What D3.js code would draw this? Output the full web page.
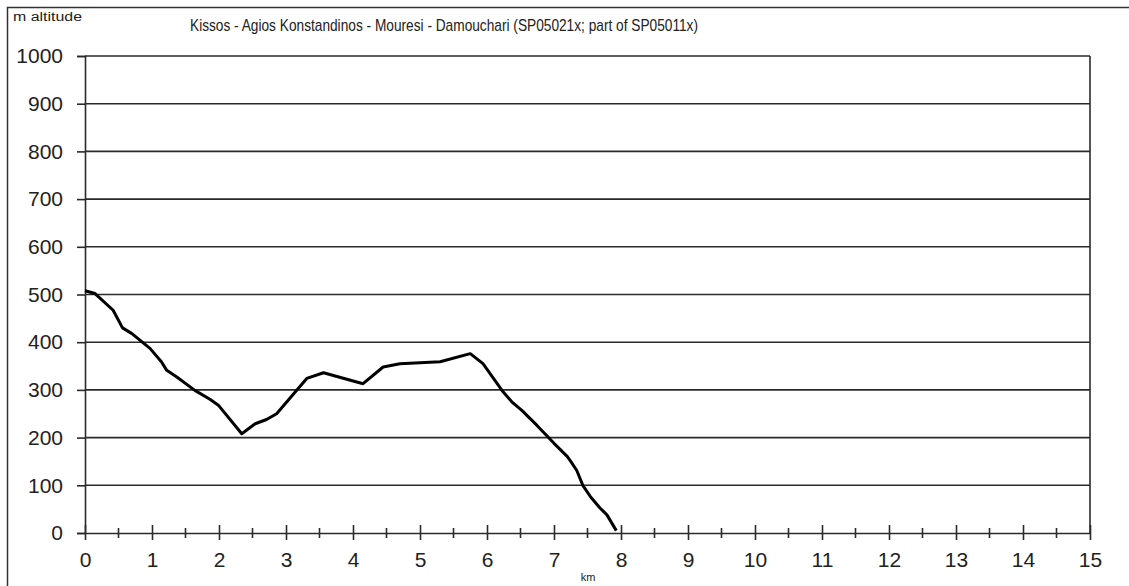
<!DOCTYPE html>
<html>
<head>
<meta charset="utf-8">
<script src="https://cdn.jsdelivr.net/npm/d3@7"></script>
<style>
  body { margin: 0; background: #fff; }
  svg { display: block; font-family: "Liberation Sans", Arial, sans-serif; }
</style>
</head>
<body>
<svg width="1129" height="586"></svg>
<script>
// elevation profile (km along route, metres)
const km = [0, 0.15, 0.42, 0.56, 0.70, 0.97, 1.14, 1.22, 1.37, 1.64, 1.87, 1.99, 2.34, 2.54, 2.71, 2.86,
            3.31, 3.56, 4.15, 4.45, 4.70, 5.30, 5.75, 5.94, 6.24, 6.37, 6.52, 6.75, 7.0, 7.2, 7.25,
            7.34, 7.43, 7.55, 7.69, 7.79, 7.93];
const altitude = [508, 502, 467, 430, 418, 387, 359, 341, 327, 299, 280, 268, 208, 229, 238, 250,
                  324, 336, 313, 348, 355, 359, 376, 355, 296, 275, 257, 225, 188, 160, 150,
                  131, 100, 75, 52, 38, 5];
const yTicks = [0, 100, 200, 300, 400, 500, 600, 700, 800, 900, 1000];
const xTicks = [0, 1, 2, 3, 4, 5, 6, 7, 8, 9, 10, 11, 12, 13, 14, 15];

const title = "Kissos - Agios Konstandinos - Mouresi - Damouchari (SP05021x; part of SP05011x)";

const svg = d3.select('svg');

// the plot box
const plotL = 85, plotR = 1090, plotT = 56, plotB = 533;
const axisCol = '#2a2a2a';
const labelFont = '"Liberation Sans", Arial, sans-serif';

const x = d3.scaleLinear().domain([0, 15]).range([plotL, plotR]);
const y = d3.scaleLinear().domain([0, 1000]).range([plotB, plotT]);

// outer frame of the picture (only top and left show)
svg.append('rect')
    .attr('x', 7.5).attr('y', 7.5)
    .attr('width', 1140).attr('height', 590)
    .attr('fill', 'none').attr('stroke', '#333').attr('stroke-width', 1.5);

// horizontal grid
svg.append('g')
    .selectAll('line')
    .data(yTicks.filter(d => d > 0))
    .enter().append('line')
    .attr('x1', plotL).attr('x2', plotR)
    .attr('y1', d => y(d)).attr('y2', d => y(d))
    .attr('stroke', axisCol).attr('stroke-width', 1.6);

// right edge of plot
svg.append('line')
    .attr('x1', plotR).attr('x2', plotR).attr('y1', plotT).attr('y2', plotB)
    .attr('stroke', axisCol).attr('stroke-width', 1.6);

// y axis
const yAxis = svg.append('g')
    .attr('transform', `translate(${plotL},0)`)
    .call(d3.axisLeft(y).tickValues(yTicks).tickFormat(d3.format('d')).tickSize(8).tickPadding(14));
yAxis.select('.domain').attr('stroke', axisCol).attr('stroke-width', 1.6);
yAxis.selectAll('.tick line').attr('stroke', axisCol).attr('stroke-width', 1.6);
yAxis.selectAll('text').attr('font-size', 21).attr('fill', '#222')
    .attr('font-family', labelFont);

// x axis - major ticks cross the axis line
const xAxis = svg.append('g')
    .attr('transform', `translate(0,${plotB})`)
    .call(d3.axisBottom(x).tickValues(xTicks).tickFormat(d3.format('d')).tickSize(0).tickPadding(19));
xAxis.select('.domain').attr('stroke', axisCol).attr('stroke-width', 1.6);
xAxis.selectAll('text').attr('font-size', 21).attr('fill', '#222')
    .attr('font-family', labelFont);
xAxis.selectAll('.tick').append('line')
    .attr('y1', -8).attr('y2', 7)
    .attr('stroke', axisCol).attr('stroke-width', 1.6);

// minor ticks at the half km
const minor = d3.range(0.5, 15, 1);
svg.append('g')
    .selectAll('line')
    .data(minor)
    .enter().append('line')
    .attr('x1', d => x(d)).attr('x2', d => x(d))
    .attr('y1', plotB - 5).attr('y2', plotB + 5)
    .attr('stroke', axisCol).attr('stroke-width', 1.6);

// the profile line
const pts = km.map((k, i) => [k, altitude[i]]);
const line = d3.line().x(d => x(d[0])).y(d => y(d[1]));
svg.append('path')
    .datum(pts)
    .attr('d', line)
    .attr('fill', 'none')
    .attr('stroke', '#000')
    .attr('stroke-width', 3)
    .attr('stroke-linejoin', 'round');

// texts
svg.append('text')
    .attr('x', 444).attr('y', 31)
    .attr('text-anchor', 'middle')
    .attr('font-size', 17)
    .attr('textLength', 508)
    .attr('lengthAdjust', 'spacingAndGlyphs')
    .attr('fill', '#222')
    .text(title);

svg.append('text')
    .attr('x', 13).attr('y', 21)
    .attr('font-size', 12.5)
    .attr('textLength', 69)
    .attr('lengthAdjust', 'spacingAndGlyphs')
    .attr('fill', '#222')
    .text('m altitude');

svg.append('text')
    .attr('x', 588).attr('y', 581)
    .attr('text-anchor', 'middle')
    .attr('font-size', 11)
    .attr('fill', '#222')
    .text('km');
</script>
</body>
</html>
